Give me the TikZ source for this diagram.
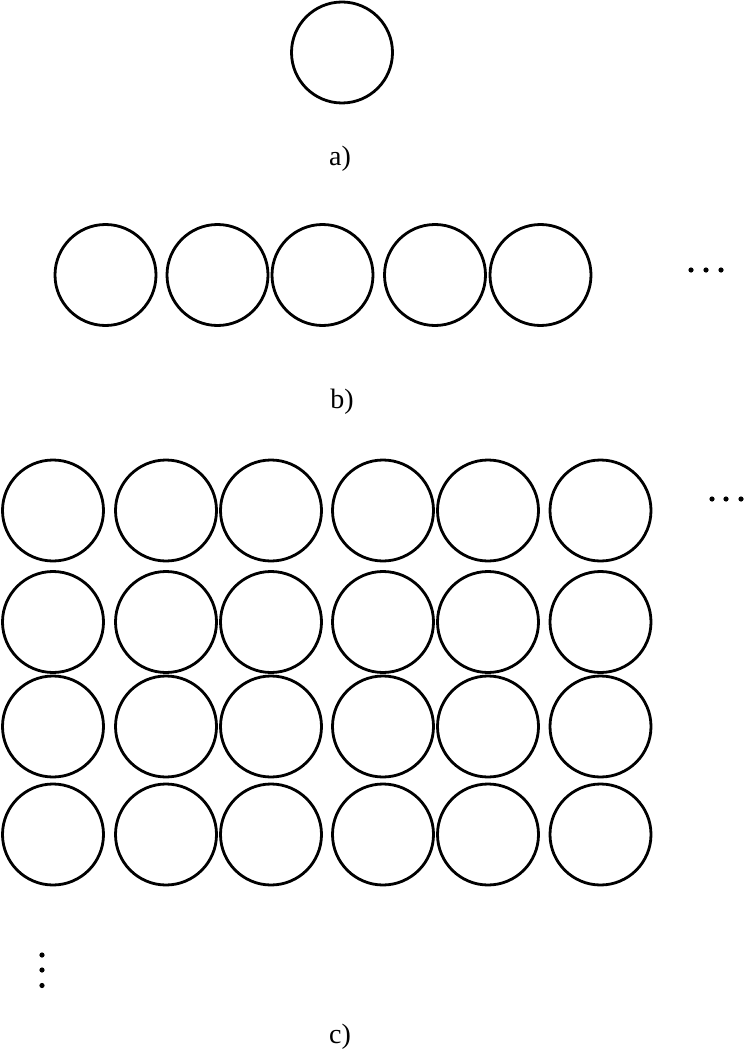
\documentclass[tikz,border=0pt]{standalone}
\usepackage{fontspec}
\setmainfont{Liberation Serif}

\begin{document}
\begin{tikzpicture}[
        x=1pt, y=-1pt,
        ball/.style={draw, circle, line width=2.8pt, minimum size=101pt, inner sep=0pt},
        caption/.style={font=\fontsize{28}{32}\selectfont, inner sep=0pt},
        dotmark/.style={fill, radius=2.6pt}
    ]
        \useasboundingbox (0,0) rectangle (745,1051);

        % a) single sphere
        \node[ball] (a) at (342,52.5) {};
        \node[caption] (capa) at (340,159) {a)};

        % b) one row
        \foreach \x [count=\i] in {105.5,217.5,322.5,435,540.5}
            \node[ball] (b\i) at (\x,275) {};
        \foreach \x in {691,706,721}
            \fill[dotmark] (\x,270) circle;
        \node[caption] (capb) at (342,402) {b)};

        % c) layers
        \foreach \y [count=\r] in {510.5,622,726.5,834.5}
            \foreach \x [count=\c] in {53,166,271,383,488,600.5}
                \node[ball] (c\r\c) at (\x,\y) {};
        \foreach \x in {712,726,741}
            \fill[dotmark] (\x,499) circle;
        \foreach \y in {955,970,985.5}
            \fill[dotmark] (42,\y) circle;
        \node[caption] (capc) at (340,1037) {c)};
    \end{tikzpicture}
\end{document}
